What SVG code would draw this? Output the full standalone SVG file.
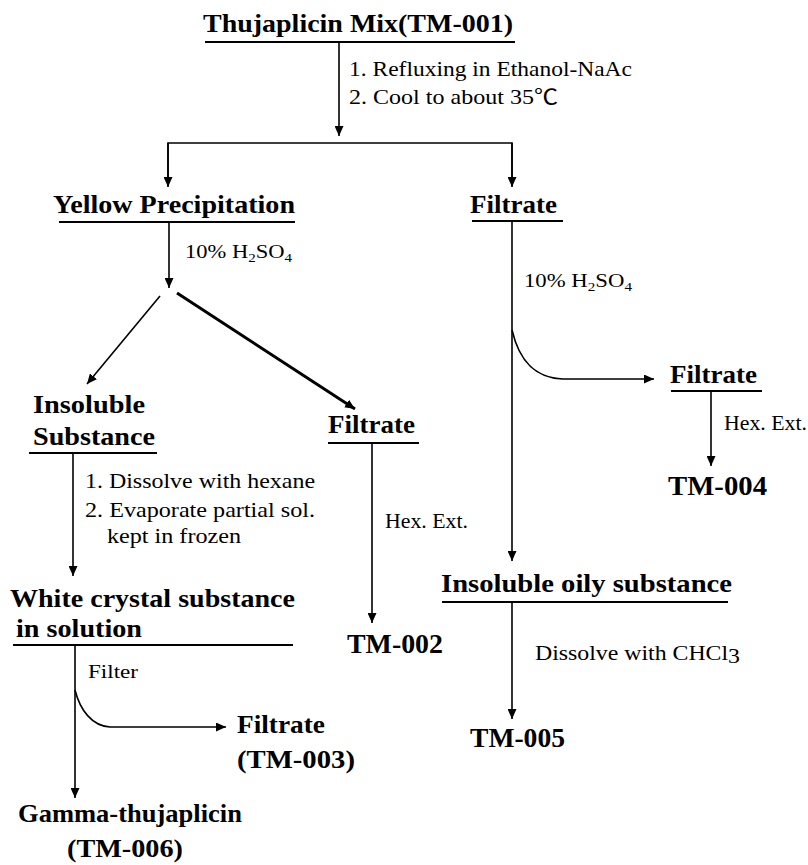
<svg xmlns="http://www.w3.org/2000/svg" width="808" height="865" viewBox="0 0 808 865">
<defs>
<marker id="ah" markerUnits="userSpaceOnUse" markerWidth="10" markerHeight="9" refX="10" refY="4.5" orient="auto">
<path d="M0,0 L10,4.5 L0,9 z" fill="#000"/>
</marker>
<style>
.b{font-family:"Liberation Serif","Times New Roman",serif;font-weight:bold;font-size:25px;fill:#000}
.r{font-family:"Liberation Serif","Times New Roman","Noto Sans CJK SC",serif;font-size:18px;fill:#000}
.ul{stroke:#000;stroke-width:2;fill:none}
.ln{stroke:#000;stroke-width:1.6;fill:none}
.ar{stroke:#000;stroke-width:1.6;fill:none;marker-end:url(#ah)}
</style>
</defs>
<rect width="808" height="865" fill="#fff"/>

<g id="connectors">
<line class="ar" x1="339" y1="42" x2="339" y2="136"/>
<polyline class="ln" points="168,186 168,143 512,143 512,186"/>
<line class="ar" x1="168" y1="143" x2="168" y2="187"/>
<line class="ar" x1="512" y1="143" x2="512" y2="187"/>
<line class="ar" x1="169" y1="222" x2="169" y2="288"/>
<line class="ar" x1="160" y1="296" x2="87" y2="384"/>
<line class="ar" x1="177" y1="293" x2="355" y2="409" style="stroke-width:3"/>
<line class="ar" x1="512" y1="221" x2="512" y2="561"/>
<path class="ar" d="M512,330 C519,360 534,378 563,379 L654,379"/>
<line class="ar" x1="711" y1="391" x2="711" y2="466"/>
<line class="ar" x1="73" y1="453" x2="73" y2="576"/>
<line class="ar" x1="372" y1="443" x2="372" y2="623"/>
<line class="ar" x1="75" y1="645" x2="75" y2="798"/>
<path class="ar" d="M75,690 C80,710 92,726 110,727 L226,727"/>
<line class="ar" x1="512" y1="602" x2="512" y2="719"/>
</g>

<g id="labels">
<text class="r" x="349" y="76" textLength="283" lengthAdjust="spacingAndGlyphs" style="font-size:21px">1. Refluxing in Ethanol-NaAc</text>
<text class="r" x="349" y="104" textLength="209" lengthAdjust="spacingAndGlyphs" style="font-size:21px">2. Cool to about 35℃</text>
<text class="r" x="185" y="258" textLength="107" lengthAdjust="spacingAndGlyphs">10% H<tspan font-size="12" dy="4">2</tspan><tspan dy="-4">SO</tspan><tspan font-size="12" dy="4">4</tspan></text>
<text class="r" x="524" y="287" textLength="108" lengthAdjust="spacingAndGlyphs">10% H<tspan font-size="12" dy="4">2</tspan><tspan dy="-4">SO</tspan><tspan font-size="12" dy="4">4</tspan></text>
<text class="r" x="724" y="430" textLength="83" lengthAdjust="spacingAndGlyphs" style="font-size:21px">Hex. Ext.</text>
<text class="r" x="85" y="488" textLength="230" lengthAdjust="spacingAndGlyphs" style="font-size:21px">1. Dissolve with hexane</text>
<text class="r" x="85" y="517" textLength="230" lengthAdjust="spacingAndGlyphs" style="font-size:21px">2. Evaporate partial sol.</text>
<text class="r" x="107" y="543" textLength="134" lengthAdjust="spacingAndGlyphs" style="font-size:21px">kept in frozen</text>
<text class="r" x="385" y="528" textLength="83" lengthAdjust="spacingAndGlyphs" style="font-size:21px">Hex. Ext.</text>
<text class="r" x="88" y="678" textLength="50" lengthAdjust="spacingAndGlyphs">Filter</text>
<text class="r" x="535" y="660" textLength="205" lengthAdjust="spacingAndGlyphs" style="font-size:21px">Dissolve with CHCl<tspan dy="3">3</tspan></text>
</g>

<g id="n-tm001">
<text class="b" x="203" y="32" textLength="310" lengthAdjust="spacingAndGlyphs" style="font-size:26px">Thujaplicin Mix(TM-001)</text>
<line class="ul" x1="205" y1="42" x2="515" y2="42"/>
</g>
<g id="n-yellow">
<text class="b" x="53" y="213" textLength="242" lengthAdjust="spacingAndGlyphs">Yellow Precipitation</text>
<line class="ul" x1="59" y1="222" x2="295" y2="222"/>
</g>
<g id="n-filtrate1">
<text class="b" x="470" y="213" textLength="87" lengthAdjust="spacingAndGlyphs">Filtrate</text>
<line class="ul" x1="472" y1="221" x2="563" y2="221"/>
</g>
<g id="n-insoluble">
<text class="b" x="33" y="413" textLength="112" lengthAdjust="spacingAndGlyphs">Insoluble</text>
<text class="b" x="33" y="445" textLength="122" lengthAdjust="spacingAndGlyphs">Substance</text>
<line class="ul" x1="29" y1="453" x2="157" y2="453"/>
</g>
<g id="n-filtrate2">
<text class="b" x="328" y="433" textLength="87" lengthAdjust="spacingAndGlyphs">Filtrate</text>
<line class="ul" x1="328" y1="443" x2="419" y2="443"/>
</g>
<g id="n-filtrate3">
<text class="b" x="670" y="383" textLength="87" lengthAdjust="spacingAndGlyphs">Filtrate</text>
<line class="ul" x1="671" y1="391" x2="762" y2="391"/>
</g>
<g id="n-tm004">
<text class="b" x="668" y="495" textLength="99" lengthAdjust="spacingAndGlyphs" style="font-size:27px">TM-004</text>
</g>
<g id="n-oily">
<text class="b" x="441" y="592" textLength="291" lengthAdjust="spacingAndGlyphs">Insoluble oily substance</text>
<line class="ul" x1="442" y1="602" x2="728" y2="602"/>
</g>
<g id="n-white">
<text class="b" x="10" y="607" textLength="285" lengthAdjust="spacingAndGlyphs" style="font-size:26px">White crystal substance</text>
<text class="b" x="16" y="637" textLength="126" lengthAdjust="spacingAndGlyphs" style="font-size:26px">in solution</text>
<line class="ul" x1="13" y1="645" x2="293" y2="645"/>
</g>
<g id="n-tm002">
<text class="b" x="347" y="653" textLength="96" lengthAdjust="spacingAndGlyphs" style="font-size:27px">TM-002</text>
</g>
<g id="n-tm005">
<text class="b" x="470" y="747" textLength="95" lengthAdjust="spacingAndGlyphs" style="font-size:27px">TM-005</text>
</g>
<g id="n-tm003">
<text class="b" x="237" y="733" textLength="88" lengthAdjust="spacingAndGlyphs">Filtrate</text>
<text class="b" x="237" y="768" textLength="118" lengthAdjust="spacingAndGlyphs">(TM-003)</text>
</g>
<g id="n-tm006">
<text class="b" x="18" y="822" textLength="224" lengthAdjust="spacingAndGlyphs">Gamma-thujaplicin</text>
<text class="b" x="67" y="857" textLength="116" lengthAdjust="spacingAndGlyphs">(TM-006)</text>
</g>
</svg>
